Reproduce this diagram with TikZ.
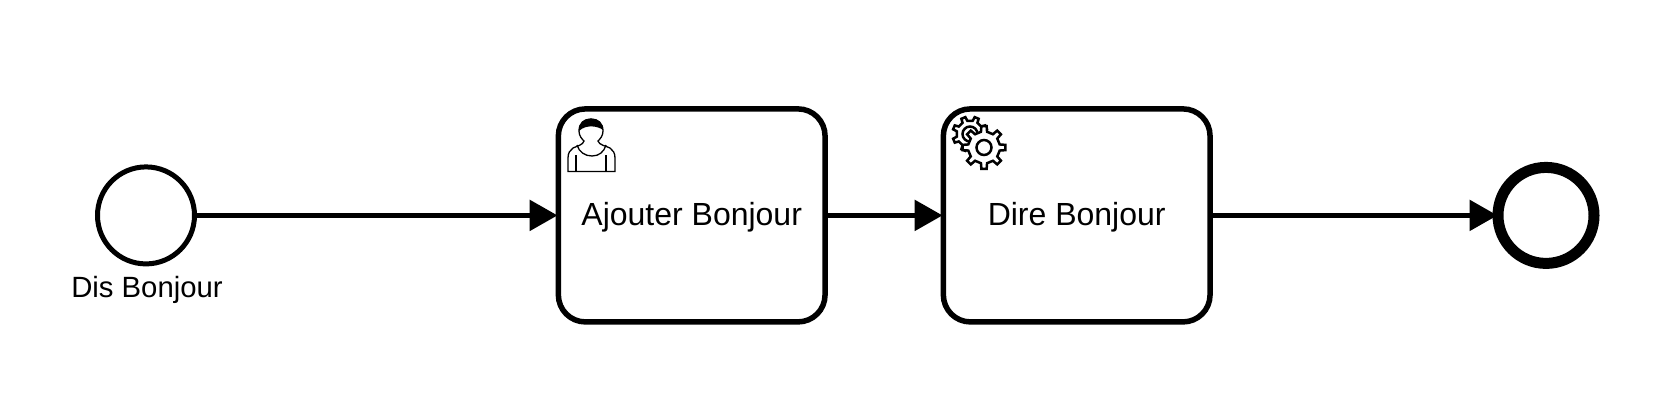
\documentclass[tikz,border=0pt]{standalone}
\usepackage{fontspec}
\setmainfont{Liberation Sans}
\usetikzlibrary{arrows.meta}
\usetikzlibrary{calc}
\newcommand{\gearshape}[5]{%
	\draw [gearline] ($(#1)+({#5-11}:#2)$) \foreach \i in {1,...,#4} {
		-- ($(#1)+({(\i-1)*360/#4+#5-11}:#2)$)
		-- ($(#1)+({(\i-1)*360/#4+#5-7}:#3)$)
		-- ($(#1)+({(\i-1)*360/#4+#5+7}:#3)$)
		-- ($(#1)+({(\i-1)*360/#4+#5+11}:#2)$)
	} -- cycle;
}
\begin{document}
\begin{tikzpicture}[x=1pt,y=-1pt]
	\tikzstyle{every node}+=[inner sep=0pt]
	\tikzstyle{tasktext}=[font=\fontsize{32}{38}\selectfont]
	\tikzstyle{task}=[draw=black, line width=5.5pt, rounded corners=27pt, minimum width=266.7pt, minimum height=213pt, tasktext, text depth=6.8pt, text height=27pt]
	\tikzstyle{flow}=[draw=black, line width=5.5pt, shorten >=-2pt, -{Triangle[length=28pt,width=30pt]}]
	\tikzstyle{startevent}=[draw=black, circle, line width=5pt, minimum size=97pt]
	\tikzstyle{endevent}=[draw=black, circle, line width=11pt, minimum size=96pt]
	\tikzstyle{personline}=[draw=black, line width=1.3pt]
	\tikzstyle{gearline}=[draw=black, fill=white, line width=2.5pt, line join=miter]
	\useasboundingbox (0,0) rectangle (1672,400);
	\node [startevent] (start) at (146,215.4) {};
	\node [font=\fontsize{29.3}{35}\selectfont] (startlabel) at (147,290) {Dis Bonjour};
	\node [task] (ajouter) at (691.7,215.4) {Ajouter Bonjour};
	\node [task] (dire) at (1076.7,215.4) {Dire Bonjour};
	\node [endevent] (end) at (1546,215.4) {};
	\draw [flow] (start) -- (ajouter);
	\draw [flow] (ajouter) -- (dire);
	\draw [flow, shorten >=-5pt] (dire) -- (end);
	\draw [personline] (579,131) .. controls (579,123) and (584,119) .. (591,119) .. controls (598,119) and (603,123) .. (603,131) .. controls (603,136) and (600,139) .. (598,141) .. controls (599,145) and (606,146) .. (610,148) .. controls (613,150) and (615,153) .. (615,158) -- (615,171.5) -- (568,171.5) -- (568,158) .. controls (568,153) and (570,150) .. (573,148) .. controls (577,146) and (583,145) .. (584,141) .. controls (582,139) and (579,136) .. (579,131);
	\draw [personline] (577,145) .. controls (579,152) and (585,156) .. (592,156) .. controls (599,156) and (604,152) .. (606,145);
	\draw [personline] (576,155) -- (576,171.5);
	\draw [personline] (606,155) -- (606,171.5);
	\fill [black] (579,131) .. controls (579,123) and (584,118.5) .. (591,118.5) .. controls (598,118.5) and (603,123) .. (603,130) .. controls (598,126) and (586,124) .. (579,131);
	\gearshape{970,134}{13.5}{17.5}{8}{22.5}
	\draw [gearline] (970,134) circle (7.5);
	\gearshape{984,147.5}{16}{21.5}{8}{0}
	\draw [gearline] (984,147.5) circle (7.5);
\end{tikzpicture}
\end{document}
